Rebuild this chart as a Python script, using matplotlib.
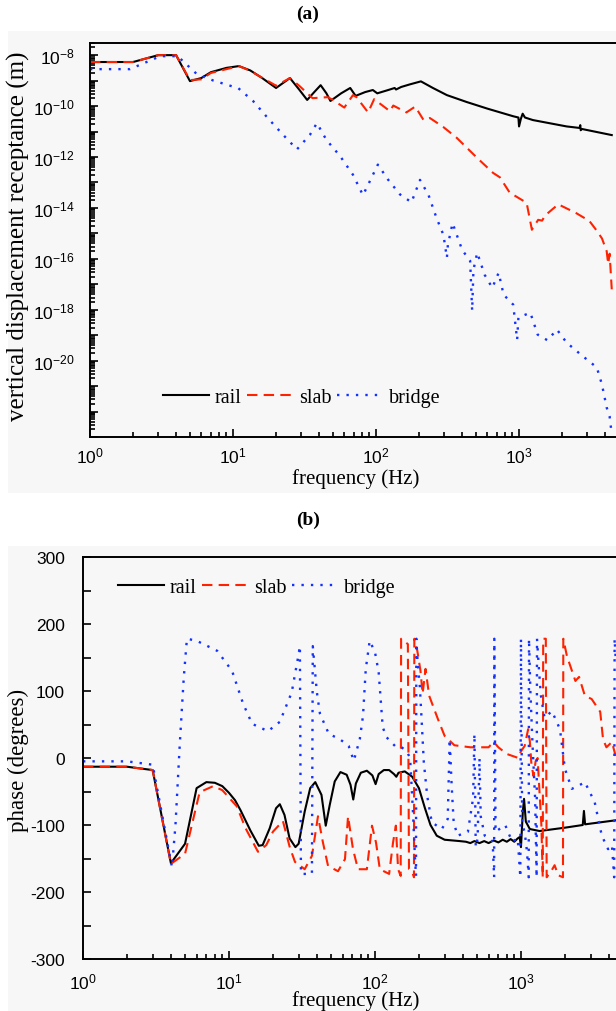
import matplotlib
matplotlib.use('Agg')
import matplotlib.pyplot as plt
import numpy as np
from matplotlib.ticker import FixedLocator, FuncFormatter, LogLocator, MultipleLocator, NullFormatter
from matplotlib.patches import Rectangle

plt.rcParams['font.family'] = ['Liberation Sans', 'DejaVu Sans']
plt.rcParams['axes.unicode_minus'] = False
SERIF = ['Liberation Serif', 'DejaVu Serif']

# (a) receptance, stored as log10 of the value in m
f_rail_a = [1, 2, 3, 4, 5, 6, 7, 9, 11, 13.2, 16, 20, 25, 29, 33, 37, 41, 45, 48, 57, 66, 72, 84, 95, 102,
            120, 135, 138, 150, 172, 206, 250, 313, 430, 600, 910, 990, 1000, 1030, 1060, 1100, 1250,
            2150, 2650, 2680, 2700, 2750, 4450]
lg_rail_a = [-8.27, -8.27, -8.0, -8.0, -9.02, -8.9, -8.67, -8.5, -8.43, -8.6, -8.9, -9.29, -8.9, -9.35,
             -9.76, -9.45, -9.18, -9.5, -9.8, -9.5, -9.29, -9.6, -9.45, -9.37, -9.5,
             -9.38, -9.29, -9.35, -9.25, -9.15, -9.03, -9.29, -9.57, -9.84, -10.1, -10.4, -10.45, -10.8,
             -10.5, -10.3, -10.45, -10.55, -10.8, -10.86, -10.75, -10.95, -10.9, -11.14]

f_slab_a = [1, 2, 3, 4, 5, 6, 7, 11, 13, 20, 25, 29, 36, 46, 50, 60, 69, 73, 88, 97, 125, 132, 163, 188,
            215, 238, 295, 367, 510, 660, 735, 860, 1130, 1230, 1360, 1450, 1520, 1880, 2500, 3100, 3500,
            3800, 4100, 4200, 4300, 4450]
lg_slab_a = [-8.27, -8.27, -8.0, -8.0, -8.98, -8.95, -8.7, -8.43, -8.6, -9.2, -8.9, -9.2, -9.69, -9.65,
             -9.76, -10.06, -9.57, -9.65, -10.25, -9.73, -10.2, -9.98, -10.25, -10.02, -10.55, -10.47,
             -10.82, -11.25, -12.04, -12.63, -12.8, -13.4, -13.8, -14.86, -14.47, -14.5, -14.3, -13.86,
             -14.2, -14.51, -14.9, -15.2, -15.7, -16.2, -15.8, -17.2]

f_bridge_a = [1, 1.9, 3.1, 4.1, 5.6, 7.3, 10.9, 13.8, 17.5, 22.4, 28, 34.5, 38.6, 45, 56, 69, 81, 90, 103,
              121, 147, 177, 203, 233, 265, 296, 313, 318, 343, 400, 455, 470, 480, 510, 575, 650, 720,
              780, 910, 970, 990, 1200, 1350, 1580, 1840, 2150, 2700, 3500, 3800, 4100, 4300, 4450]
lg_bridge_a = [-8.55, -8.55, -8.04, -8.04, -8.75, -9.0, -9.3, -9.8, -10.47, -11.13, -11.7, -11.13, -10.67,
               -11.33, -11.96, -12.7, -13.5, -12.98, -12.3, -12.88, -13.47, -13.78, -12.9, -13.5, -14.4,
               -15.06, -15.96, -15.45, -14.6, -15.65, -16.08, -18.04, -16.43, -15.76, -16.63, -17.14,
               -16.55, -17.41, -17.8, -19.18, -18.3, -18.12, -18.98, -19.2, -18.78, -19.29, -19.76,
               -20.27, -20.94, -21.84, -22.2, -22.9]

# (b) phase in degrees
f_rail_b = [1, 2, 3, 4, 5, 6, 7, 8, 9, 10, 11, 12, 14, 16, 17, 19, 21, 22.3, 24, 26, 28.5, 30, 33, 36, 39,
            43, 46, 49, 53, 58, 64, 68, 71, 74, 80, 88, 96, 101, 106, 115, 125, 135, 140, 145, 160, 180,
            200, 220, 240, 265, 300, 380, 420, 450, 480, 520, 560, 600, 650, 700, 750, 800, 850, 900,
            950, 980, 1000, 1030, 1050, 1080, 1150, 1340, 2000, 2650, 2700, 2750, 4450]
ph_rail_b = [-13, -13, -18, -157, -128, -45, -36, -37, -42, -52, -63, -78, -108, -131, -130, -105, -75,
             -69, -85, -120, -133, -128, -80, -45, -36, -55, -101, -70, -35, -21, -25, -40, -62, -38,
             -22, -19, -26, -39, -24, -18, -18, -24, -28, -22, -20, -28, -45, -75, -100, -116, -122,
             -124, -125, -127, -124, -127, -124, -127, -123, -126, -122, -125, -121, -125, -120, -118,
             -133, -80, -61, -95, -106, -109, -104, -100, -79, -99, -93]

f_slab_b = [1, 2, 3, 4, 5, 6, 6.3, 7.8, 9, 11.3, 13, 15.8, 18, 20, 23.4, 26, 28.3, 33, 37, 40.7, 44,
            47.7, 55.8, 62.3, 65.4, 70.7, 76.5, 88, 95.4, 101.6, 108, 125, 133, 139, 144, 150, 151,
            168, 171, 180, 185, 186, 195, 205, 212, 222, 235, 270, 300, 350, 450, 600, 650, 700, 800,
            960, 1000, 1060, 1120, 1150, 1180, 1220, 1260, 1300, 1380, 1410, 1420, 1480, 1500, 1600,
            1700, 1800, 1940, 1950, 2065, 2360, 2500, 2740, 3050, 3490, 3650, 3850, 4200, 4450]
ph_slab_b = [-13, -13, -18, -158, -143, -70, -51, -42, -48, -72, -105, -140, -130, -110, -94, -132,
             -155, -166, -146, -87, -126, -161, -169, -151, -87, -136, -166, -166, -101, -126, -166,
             -173, -126, -101, -166, -176, 178, 170, -166, -170, -178, 178, 160, 130, 96, 133, 93, 58,
             33, 19, 16, 16, 24, 16, 6, 0, 10, 18, 43, 25, -10, -27, -5, 0, -100, -178, 178, 178, -178,
             -170, -160, -175, -178, 178, 152, 115, 121, 93, 88, 69, 28, 16, 24, 3]

f_bridge_b = [1, 2, 3, 4.07, 4.3, 4.6, 4.9, 5.15, 6, 8.3, 10.5, 12.5, 14.4, 18.5, 22.3, 26.9, 29.6, 30.6,
              31.1, 37, 37.5, 40, 42, 48.3, 57.5, 66, 71.6, 78.7, 82.8, 86.5, 92, 100, 106, 113, 120,
              137, 148, 165, 174, 182, 188, 191, 192, 196, 203, 209, 216, 228, 245, 287, 315, 325, 335,
              346, 368, 433, 470, 480, 490, 505, 520, 530, 565, 640, 655, 657, 670, 780, 870, 950, 990,
              1000, 1020, 1060, 1100, 1130, 1135, 1160, 1200, 1250, 1280, 1288, 1330, 1370, 1450, 1630,
              1850, 2000, 2230, 2450, 2740, 3200, 3580, 3950, 4200, 4350, 4380, 4450]
ph_bridge_b = [-5, -5, -10, -163, -100, 20, 120, 178, 175, 160, 130, 81, 51, 40, 54, 98, 148, 167, -173,
               -173, 167, 98, 66, 36, 28, 18, -4, 28, 63, 133, 175, 158, 128, 46, 31, 18, 18, 10, 0,
               -80, -150, -176, 178, 143, 106, 54, -6, -57, -96, -106, -91, 28, -40, -96, -116, -110,
               -60, 36, -133, -120, 0, -87, -116, -125, -178, 178, -110, -100, -125, -120, -178, 178,
               -100, -110, -140, -178, 178, 100, 20, -60, -178, 178, 130, 93, 60, 70, 43, -16, -46,
               -42, -36, -66, -116, -136, -130, -178, 178, 150]

labels = ['rail', 'slab', 'bridge']
colors = ['black', '#ff2200', '#1432ff']
styles = ['-', (0, (5, 3)), (0, (1, 3))]
widths = [1.5, 1.5, 1.7]

fig = plt.figure(figsize=(6.16, 10.12), dpi=100)
W, H = 616.0, 1012.0
for y0, y1 in [(32, 494), (547, 1012)]:
    fig.patches.append(Rectangle((8 / W, 1 - y1 / H), 1, (y1 - y0) / H, transform=fig.transFigure,
                                 facecolor='#f7f7f7', edgecolor='none', zorder=-5))

ax1 = fig.add_axes([90 / W, 1 - 438 / H, 529 / W, 394 / H])
ax2 = fig.add_axes([83 / W, 1 - 960 / H, 540 / W, 402 / H])

data_a = [(f_rail_a, lg_rail_a), (f_slab_a, lg_slab_a), (f_bridge_a, lg_bridge_a)]
for (f, lg), lab, c, ls, lw in zip(data_a, labels, colors, styles, widths):
    ax1.plot(f, 10.0 ** np.array(lg), color=c, ls=ls, lw=lw, label=lab)

data_b = [(f_rail_b, ph_rail_b), (f_slab_b, ph_slab_b), (f_bridge_b, ph_bridge_b)]
for (f, ph), lab, c, ls, lw in zip(data_b, labels, colors, styles, widths):
    ax2.plot(f, ph, color=c, ls=ls, lw=lw, label=lab)

pow_fmt = FuncFormatter(lambda v, p: r'$\mathdefault{10^{%d}}$' % round(np.log10(v)))

for ax in (ax1, ax2):
    ax.set_facecolor('none')
    ax.set_xscale('log')
    ax.set_xlim(1, 5000)
    ax.xaxis.set_major_locator(LogLocator(base=10, numticks=10))
    ax.xaxis.set_minor_locator(LogLocator(base=10, subs=np.arange(2, 10), numticks=50))
    ax.xaxis.set_major_formatter(pow_fmt)
    ax.xaxis.set_minor_formatter(NullFormatter())
    ax.tick_params(which='both', direction='in', top=False, right=False, width=1.2, labelsize=12.5)
    ax.tick_params(which='major', length=6)
    ax.tick_params(which='minor', length=3.5)
    for s in ax.spines.values():
        s.set_linewidth(1.4)
    ax.legend(ncol=3, frameon=False, prop={'family': SERIF, 'size': 14.5}, handlelength=2.3,
              handletextpad=0.25, columnspacing=0.3, borderpad=0, borderaxespad=0,
              loc='center left',
              bbox_to_anchor=(0.138, 0.1) if ax is ax1 else (0.065, 0.925))

ax1.set_yscale('log')
ax1.set_ylim(1e-23, 3e-8)
ax1.yaxis.set_major_locator(FixedLocator(10.0 ** np.arange(-23, -7)))
ax1.yaxis.set_minor_locator(LogLocator(base=10, subs=np.arange(2, 10), numticks=100))
ax1.yaxis.set_major_formatter(FuncFormatter(
    lambda v, p: r'$\mathdefault{10^{%d}}$' % round(np.log10(v))
    if round(np.log10(v)) % 2 == 0 and -20 <= round(np.log10(v)) <= -8 else ''))
ax1.yaxis.set_minor_formatter(NullFormatter())
ax1.tick_params(axis='x', pad=6)
ax1.tick_params(axis='y', pad=11)

ax2.set_ylim(-300, 300)
ax2.yaxis.set_major_locator(MultipleLocator(100))
ax2.yaxis.set_minor_locator(MultipleLocator(50))
ax2.tick_params(axis='y', which='minor', length=6)
ax2.tick_params(axis='x', pad=9)
ax2.tick_params(axis='y', pad=13)

fig.text(308 / W, 1 - 14 / H, '(a)', ha='center', va='center', family=SERIF, fontsize=14, weight='bold')
fig.text(308 / W, 1 - 520 / H, '(b)', ha='center', va='center', family=SERIF, fontsize=14, weight='bold')
fig.text(356 / W, 1 - 479 / H, 'frequency (Hz)', ha='center', va='center', family=SERIF, fontsize=15)
fig.text(356 / W, 1 - 1001 / H, 'frequency (Hz)', ha='center', va='center', family=SERIF, fontsize=15)
fig.text(18 / W, 1 - 236 / H, 'vertical displacement receptance (m)', rotation=90, ha='center',
         va='center', family=SERIF, fontsize=18)
fig.text(18 / W, 1 - 760 / H, 'phase (degrees)', rotation=90, ha='center', va='center',
         family=SERIF, fontsize=16.5)

fig.savefig('out.png', dpi=100)
